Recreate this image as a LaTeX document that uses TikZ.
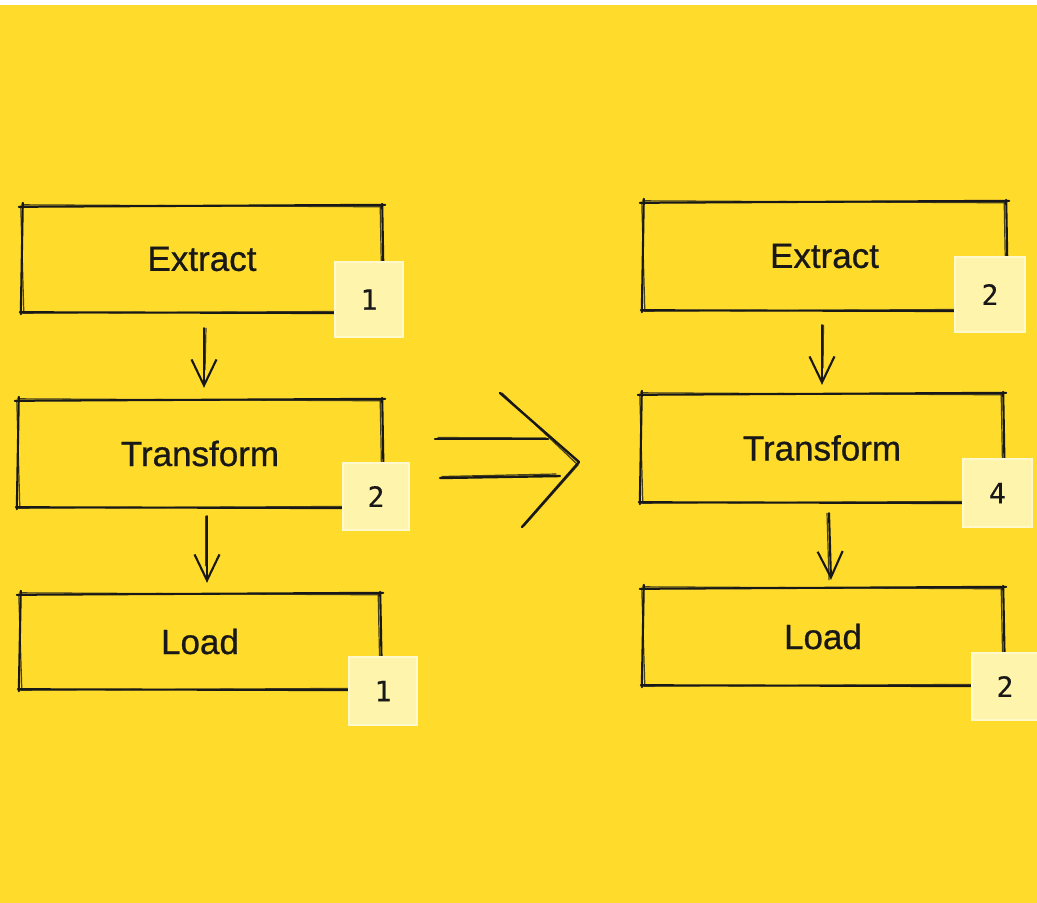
\documentclass[tikz,border=0pt]{standalone}
\usepackage{fontspec}
\setmainfont{Liberation Sans}
\newfontfamily\stagefont{Liberation Sans}[FakeBold=0.7]
\newfontfamily\digitfont{DejaVu Sans Mono}[FakeBold=0.4]
\usetikzlibrary{arrows.meta}
\definecolor{canvas}{RGB}{255,219,43}
\definecolor{ink}{RGB}{24,24,24}
\definecolor{tag}{RGB}{255,244,172}
\definecolor{tagedge}{RGB}{255,249,205}

% hand-drawn outline round a node: each side drawn twice, with small offsets
\newcommand\roughbox[1]{%
  \draw[rough] ([shift={(-3,1)}]#1.north west) -- ([shift={(3,-1)}]#1.north east);
  \draw[rough] ([shift={(0,-2)}]#1.north east) -- ([shift={(2,2)}]#1.south east);
  \draw[rough] ([shift={(3,1)}]#1.south east) -- ([shift={(-2,0)}]#1.south west);
  \draw[rough] ([shift={(-1,2)}]#1.south west) -- ([shift={(1,-3)}]#1.north west);
  \draw[rough2] ([shift={(0,-1)}]#1.north west) -- ([shift={(-1,1)}]#1.north east);
  \draw[rough2] ([shift={(-2,1)}]#1.north east) -- ([shift={(0,-1)}]#1.south east);
  \draw[rough2] ([shift={(0,-1)}]#1.south east) -- ([shift={(1,1)}]#1.south west);
  \draw[rough2] ([shift={(2,0)}]#1.south west) -- ([shift={(-1,1)}]#1.north west);
}

\begin{document}
\begin{tikzpicture}[x=1pt,y=-1pt,
  stage/.style={rectangle, inner sep=0pt, text=ink,
    font=\stagefont\fontsize{35}{40}\selectfont},
  tagbox/.style={rectangle, inner sep=0pt, fill=tag, draw=tagedge,
    line width=2pt, text=ink, font=\digitfont\fontsize{28}{32}\selectfont},
  rough/.style={draw=ink, line width=2.1pt, line cap=round, line join=round},
  rough2/.style={draw=ink, line width=1.2pt, line cap=round, opacity=0.8},
  flow/.style={draw=ink, line width=2.1pt, line cap=round,
    -{Straight Barb[length=26pt,width=25pt,line width=2.1pt]}},
  shaft/.style={draw=ink, line width=1.2pt, line cap=round, opacity=0.8}]

% canvas
\fill[white] (0,0) rectangle (1037,903);
\fill[canvas] (0,5) rectangle (1037,903);
\useasboundingbox (0,0) rectangle (1037,903);

% left pipeline
\node[stage, minimum width=360pt, minimum height=106pt] (le) at (202,259) {Extract};
\node[stage, minimum width=364pt, minimum height=107pt] (lt) at (200,453.5) {Transform};
\node[stage, minimum width=360pt, minimum height=95pt]  (ll) at (200,641.5) {Load};

% right pipeline
\node[stage, minimum width=363pt, minimum height=108pt] (re) at (824.5,256) {Extract};
\node[stage, minimum width=362pt, minimum height=108pt] (rt) at (822,448) {Transform};
\node[stage, minimum width=360pt, minimum height=97pt]  (rl) at (823,636.5) {Load};

\roughbox{le}
\roughbox{lt}
\roughbox{ll}
\roughbox{re}
\roughbox{rt}
\roughbox{rl}

% counts
\node[tagbox, minimum width=68pt, minimum height=75pt] (lc1) at (369,299.5) {1};
\node[tagbox, minimum width=66pt, minimum height=67pt] (lc2) at (376,496.5) {2};
\node[tagbox, minimum width=68pt, minimum height=68pt] (lc3) at (383,691) {1};
\node[tagbox, minimum width=70pt, minimum height=75pt] (rc1) at (990,294.5) {2};
\node[tagbox, minimum width=69pt, minimum height=68pt] (rc2) at (997.5,493) {4};
\node[tagbox, minimum width=66pt, minimum height=67pt] (rc3) at (1005,686.5) {2};

% flow arrows
\draw[flow] ([shift={(2,16)}]le.south) -- ([shift={(4,-12)}]lt.north);
\draw[shaft] ([shift={(4,16)}]le.south) -- ([shift={(5,-30)}]lt.north);
\draw[flow] ([shift={(7,9)}]lt.south) -- ([shift={(7,-11)}]ll.north);
\draw[shaft] ([shift={(6,9)}]lt.south) -- ([shift={(6,-28)}]ll.north);
\draw[flow] ([shift={(-2.5,15)}]re.south) -- ([shift={(0,-9)}]rt.north);
\draw[shaft] ([shift={(-1,15)}]re.south) -- ([shift={(1,-26)}]rt.north);
\draw[flow] ([shift={(7,11)}]rt.south) -- ([shift={(8,-8)}]rl.north);
\draw[shaft] ([shift={(5,11)}]rt.south) -- ([shift={(6,-8)}]rl.north);

% the "becomes" arrow between the pipelines
\coordinate (ua) at (435,439);
\coordinate (ub) at (548,439);
\coordinate (la) at (440,478);
\coordinate (lb) at (560,476);
\coordinate (ha) at (500,393);
\coordinate (hb) at (579,462);
\coordinate (hc) at (522,527);
\draw[rough, line width=2.4pt] (ua) -- (ub);
\draw[rough2] ([shift={(3,-1.5)}]ua) -- ([shift={(-2,-1)}]ub);
\draw[rough, line width=2.4pt] (la) -- (lb);
\draw[rough2] ([shift={(2,-1.5)}]la) -- ([shift={(-4,-2)}]lb);
\draw[rough, line width=2.4pt] (ha) -- (hb) -- (hc);
\draw[rough2] ([shift={(2,0)}]ha) -- ([shift={(-1,3)}]hb) -- ([shift={(2,-1)}]hc);
\end{tikzpicture}
\end{document}
